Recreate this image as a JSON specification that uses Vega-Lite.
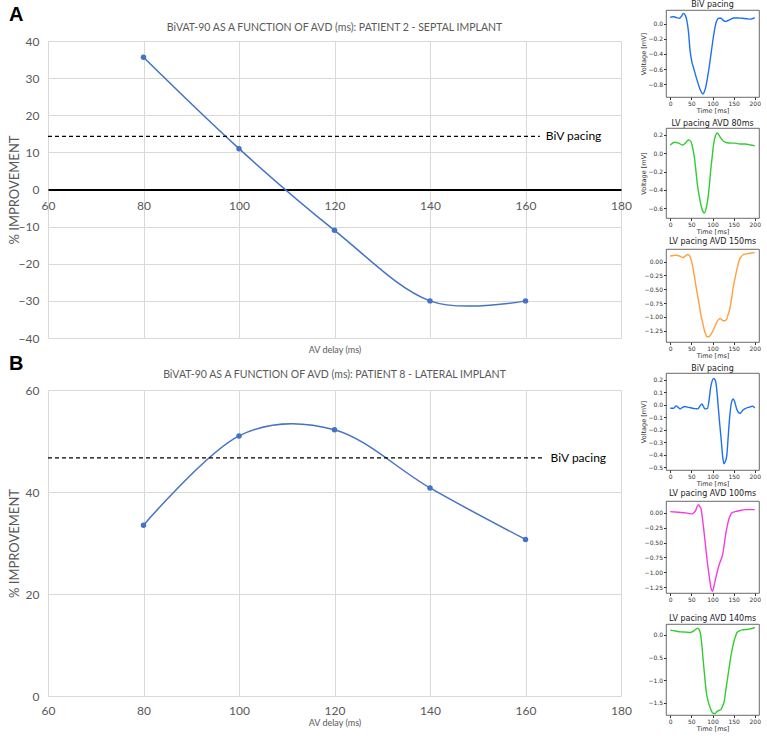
{
  "$schema": "https://vega.github.io/schema/vega-lite/v6.json",
  "background": "white",
  "padding": {"left": 8, "top": 0, "right": 0, "bottom": 0},
  "autosize": {"type": "pad"},
  "datasets": {
    "A": [
      {"avd": 80, "imp": 35.6}, {"avd": 100, "imp": 11}, {"avd": 120, "imp": -11}, {"avd": 140, "imp": -30}, {"avd": 160, "imp": -30}
    ],
    "B": [
      {"avd": 80, "imp": 33.5}, {"avd": 100, "imp": 51}, {"avd": 120, "imp": 52.2}, {"avd": 140, "imp": 40.8}, {"avd": 160, "imp": 30.7}
    ],
    "refA": [{"start": 60, "end": 163, "imp": 14.3, "label": "BiV pacing"}],
    "refB": [{"start": 60, "end": 164, "imp": 46.7, "label": "BiV pacing"}],
    "w1": [
      {"t": 0, "v": 0.085}, {"t": 8, "v": 0.09}, {"t": 15, "v": 0.08}, {"t": 22, "v": 0.07}, {"t": 27, "v": 0.1}, {"t": 31, "v": 0.135}, {"t": 35, "v": 0.115}, {"t": 39, "v": 0.05}, {"t": 43, "v": -0.1}, {"t": 47, "v": -0.36}, {"t": 51, "v": -0.5}, {"t": 55, "v": -0.58}, {"t": 62, "v": -0.72}, {"t": 70, "v": -0.86}, {"t": 74, "v": -0.91}, {"t": 77, "v": -0.93}, {"t": 80, "v": -0.91}, {"t": 84, "v": -0.84}, {"t": 88, "v": -0.72}, {"t": 92, "v": -0.58}, {"t": 97, "v": -0.38}, {"t": 102, "v": -0.18}, {"t": 107, "v": -0.02}, {"t": 111, "v": 0.05}, {"t": 115, "v": 0.07}, {"t": 120, "v": 0.07}, {"t": 126, "v": 0.04}, {"t": 132, "v": 0.03}, {"t": 140, "v": 0.05}, {"t": 150, "v": 0.075}, {"t": 160, "v": 0.075}, {"t": 170, "v": 0.07}, {"t": 180, "v": 0.065}, {"t": 190, "v": 0.06}, {"t": 200, "v": 0.08}
    ],
    "w2": [
      {"t": 0, "v": 0.09}, {"t": 10, "v": 0.12}, {"t": 20, "v": 0.11}, {"t": 29, "v": 0.09}, {"t": 36, "v": 0.11}, {"t": 43, "v": 0.145}, {"t": 49, "v": 0.127}, {"t": 53, "v": 0.06}, {"t": 57, "v": -0.04}, {"t": 61, "v": -0.2}, {"t": 64, "v": -0.33}, {"t": 68, "v": -0.45}, {"t": 72, "v": -0.55}, {"t": 77, "v": -0.63}, {"t": 81, "v": -0.65}, {"t": 85, "v": -0.6}, {"t": 88, "v": -0.53}, {"t": 92, "v": -0.38}, {"t": 95, "v": -0.22}, {"t": 99, "v": -0.05}, {"t": 103, "v": 0.11}, {"t": 107, "v": 0.19}, {"t": 111, "v": 0.22}, {"t": 115, "v": 0.2}, {"t": 119, "v": 0.17}, {"t": 126, "v": 0.13}, {"t": 134, "v": 0.115}, {"t": 145, "v": 0.11}, {"t": 153, "v": 0.11}, {"t": 165, "v": 0.1}, {"t": 177, "v": 0.1}, {"t": 190, "v": 0.09}, {"t": 200, "v": 0.08}
    ],
    "w3": [
      {"t": 0, "v": 0.1}, {"t": 8, "v": 0.11}, {"t": 15, "v": 0.115}, {"t": 22, "v": 0.1}, {"t": 30, "v": 0.072}, {"t": 36, "v": 0.1}, {"t": 42, "v": 0.128}, {"t": 46, "v": 0.1}, {"t": 49, "v": 0.05}, {"t": 53, "v": -0.08}, {"t": 57, "v": -0.26}, {"t": 61, "v": -0.45}, {"t": 65, "v": -0.63}, {"t": 69, "v": -0.8}, {"t": 72, "v": -0.94}, {"t": 76, "v": -1.08}, {"t": 80, "v": -1.22}, {"t": 84, "v": -1.32}, {"t": 87, "v": -1.36}, {"t": 91, "v": -1.36}, {"t": 95, "v": -1.33}, {"t": 99, "v": -1.28}, {"t": 103, "v": -1.22}, {"t": 107, "v": -1.15}, {"t": 110, "v": -1.1}, {"t": 114, "v": -1.05}, {"t": 118, "v": -1.03}, {"t": 122, "v": -1.05}, {"t": 125, "v": -1.07}, {"t": 129, "v": -1.07}, {"t": 133, "v": -1.05}, {"t": 137, "v": -0.96}, {"t": 141, "v": -0.85}, {"t": 145, "v": -0.68}, {"t": 148, "v": -0.51}, {"t": 152, "v": -0.35}, {"t": 156, "v": -0.2}, {"t": 160, "v": -0.07}, {"t": 163, "v": 0.02}, {"t": 167, "v": 0.08}, {"t": 171, "v": 0.115}, {"t": 178, "v": 0.135}, {"t": 186, "v": 0.146}, {"t": 193, "v": 0.155}, {"t": 200, "v": 0.165}
    ],
    "w4": [
      {"t": 0, "v": -0.027}, {"t": 8, "v": -0.027}, {"t": 14, "v": -0.008}, {"t": 19, "v": -0.02}, {"t": 23, "v": -0.032}, {"t": 28, "v": -0.022}, {"t": 34, "v": -0.013}, {"t": 44, "v": -0.02}, {"t": 53, "v": -0.027}, {"t": 60, "v": -0.03}, {"t": 65, "v": -0.032}, {"t": 70, "v": -0.01}, {"t": 75, "v": 0.007}, {"t": 79, "v": -0.015}, {"t": 82, "v": -0.032}, {"t": 88, "v": -0.027}, {"t": 92, "v": 0.04}, {"t": 95, "v": 0.126}, {"t": 99, "v": 0.19}, {"t": 103, "v": 0.212}, {"t": 106, "v": 0.2}, {"t": 108, "v": 0.178}, {"t": 111, "v": 0.09}, {"t": 114, "v": -0.032}, {"t": 117, "v": -0.15}, {"t": 121, "v": -0.294}, {"t": 124, "v": -0.41}, {"t": 127, "v": -0.47}, {"t": 130, "v": -0.455}, {"t": 134, "v": -0.399}, {"t": 137, "v": -0.26}, {"t": 141, "v": -0.084}, {"t": 145, "v": 0.02}, {"t": 149, "v": 0.047}, {"t": 152, "v": 0.03}, {"t": 154, "v": 0.007}, {"t": 157, "v": -0.03}, {"t": 160, "v": -0.053}, {"t": 163, "v": -0.065}, {"t": 166, "v": -0.066}, {"t": 171, "v": -0.045}, {"t": 176, "v": -0.032}, {"t": 185, "v": -0.02}, {"t": 195, "v": -0.011}, {"t": 200, "v": -0.024}
    ],
    "w5": [
      {"t": 0, "v": 0.021}, {"t": 19, "v": 0.01}, {"t": 37, "v": 0.0}, {"t": 52, "v": -0.017}, {"t": 56, "v": 0.005}, {"t": 60, "v": 0.038}, {"t": 64, "v": 0.11}, {"t": 67, "v": 0.136}, {"t": 70, "v": 0.11}, {"t": 73, "v": 0.065}, {"t": 76, "v": -0.08}, {"t": 79, "v": -0.26}, {"t": 82, "v": -0.45}, {"t": 85, "v": -0.65}, {"t": 88, "v": -0.84}, {"t": 91, "v": -1.0}, {"t": 94, "v": -1.16}, {"t": 96, "v": -1.25}, {"t": 98, "v": -1.3}, {"t": 100, "v": -1.32}, {"t": 103, "v": -1.25}, {"t": 106, "v": -1.15}, {"t": 109, "v": -1.06}, {"t": 112, "v": -0.97}, {"t": 116, "v": -0.87}, {"t": 120, "v": -0.79}, {"t": 124, "v": -0.7}, {"t": 128, "v": -0.52}, {"t": 131, "v": -0.37}, {"t": 135, "v": -0.22}, {"t": 139, "v": -0.1}, {"t": 143, "v": -0.03}, {"t": 146, "v": 0.0}, {"t": 151, "v": 0.015}, {"t": 157, "v": 0.027}, {"t": 165, "v": 0.04}, {"t": 176, "v": 0.054}, {"t": 188, "v": 0.055}, {"t": 200, "v": 0.054}
    ],
    "w6": [
      {"t": 0, "v": 0.104}, {"t": 12, "v": 0.085}, {"t": 25, "v": 0.067}, {"t": 37, "v": 0.06}, {"t": 48, "v": 0.052}, {"t": 56, "v": 0.089}, {"t": 61, "v": 0.13}, {"t": 65, "v": 0.148}, {"t": 68, "v": 0.12}, {"t": 71, "v": 0.052}, {"t": 74, "v": -0.15}, {"t": 76, "v": -0.352}, {"t": 81, "v": -0.87}, {"t": 86, "v": -1.31}, {"t": 90, "v": -1.48}, {"t": 94, "v": -1.6}, {"t": 98, "v": -1.69}, {"t": 101, "v": -1.73}, {"t": 106, "v": -1.74}, {"t": 110, "v": -1.7}, {"t": 113, "v": -1.68}, {"t": 117, "v": -1.66}, {"t": 120, "v": -1.65}, {"t": 124, "v": -1.57}, {"t": 128, "v": -1.46}, {"t": 131, "v": -1.25}, {"t": 135, "v": -1.0}, {"t": 139, "v": -0.75}, {"t": 143, "v": -0.5}, {"t": 147, "v": -0.3}, {"t": 151, "v": -0.13}, {"t": 155, "v": -0.02}, {"t": 158, "v": 0.052}, {"t": 164, "v": 0.09}, {"t": 170, "v": 0.11}, {"t": 185, "v": 0.125}, {"t": 193, "v": 0.14}, {"t": 200, "v": 0.163}
    ]
  },
  "hconcat": [
    {
      "vconcat": [
        {
          "width": 1, "height": 10,
          "data": {"values": []},
          "mark": "point",
          "title": {"text": "A", "orient": "left", "angle": 0, "anchor": "middle", "align": "right", "baseline": "middle", "offset": 10, "fontSize": 20, "fontWeight": "bold", "font": "Liberation Sans", "color": "black"}
        },
        {
          "width": 573, "height": 297,
          "title": {"text": "BiVAT-90 AS A FUNCTION OF AVD (ms): PATIENT 2 - SEPTAL IMPLANT", "fontSize": 10.5, "color": "#595959", "font": "Lato", "fontWeight": "normal", "offset": 2},
          "encoding": {
            "y": {"field": "imp", "type": "quantitative", "scale": {"domain": [-40, 40], "nice": false, "zero": false},
              "axis": {"values": [-40, -30, -20, -10, 0, 10, 20, 30, 40], "domain": false, "ticks": false, "labelPadding": 9, "labelFontSize": 12, "labelColor": "#595959", "labelFont": "Lato", "grid": true, "gridColor": "#d9d9d9", "title": "% IMPROVEMENT", "titleX": -27, "titleFontSize": 13, "titleFontWeight": "normal", "titleColor": "#595959", "titleFont": "Lato"}}
          },
          "layer": [
            {
              "data": {"name": "A"},
              "mark": {"type": "line", "color": "#4472C4", "strokeWidth": 1.5, "interpolate": "cardinal"},
              "encoding": {
                "x": {"field": "avd", "type": "quantitative", "scale": {"domain": [60, 180], "nice": false, "zero": false},
                  "axis": {"values": [60, 80, 100, 120, 140, 160, 180], "offset": -148.5, "domain": true, "domainColor": "black", "domainWidth": 2, "ticks": false, "labelPadding": 11, "labelFontSize": 12, "labelColor": "#595959", "labelFont": "Lato", "grid": true, "gridColor": "#d9d9d9", "title": "AV delay (ms)", "titleY": 159.5, "titleBaseline": "middle", "titleFontSize": 9, "titleFontWeight": "normal", "titleColor": "#595959", "titleFont": "Lato"}}
              }
            },
            {
              "data": {"name": "A"},
              "mark": {"type": "circle", "color": "#4472C4", "size": 30, "opacity": 1},
              "encoding": {"x": {"field": "avd", "type": "quantitative"}}
            },
            {
              "data": {"name": "refA"},
              "mark": {"type": "rule", "color": "black", "strokeDash": [4, 3], "strokeWidth": 1.2},
              "encoding": {"x": {"field": "start", "type": "quantitative"}, "x2": {"field": "end"}}
            },
            {
              "data": {"name": "refA"},
              "mark": {"type": "text", "align": "left", "baseline": "middle", "dx": 6, "fontSize": 12, "font": "Lato", "color": "black"},
              "encoding": {"x": {"field": "end", "type": "quantitative"}, "text": {"field": "label"}}
            }
          ]
        },
        {
          "width": 1, "height": 10,
          "data": {"values": []},
          "mark": "point",
          "title": {"text": "B", "orient": "left", "angle": 0, "anchor": "middle", "align": "right", "baseline": "middle", "offset": 10, "fontSize": 20, "fontWeight": "bold", "font": "Liberation Sans", "color": "black"}
        },
        {
          "width": 573, "height": 306,
          "title": {"text": "BiVAT-90 AS A FUNCTION OF AVD (ms): PATIENT 8 - LATERAL IMPLANT", "fontSize": 10.5, "color": "#595959", "font": "Lato", "fontWeight": "normal", "offset": 4},
          "encoding": {
            "y": {"field": "imp", "type": "quantitative", "scale": {"domain": [0, 60], "nice": false, "zero": false},
              "axis": {"values": [0, 20, 40, 60], "domain": false, "ticks": false, "labelPadding": 9, "labelFontSize": 12, "labelColor": "#595959", "labelFont": "Lato", "grid": true, "gridColor": "#d9d9d9", "title": "% IMPROVEMENT", "titleX": -27, "titleFontSize": 13, "titleFontWeight": "normal", "titleColor": "#595959", "titleFont": "Lato"}}
          },
          "layer": [
            {
              "data": {"name": "B"},
              "mark": {"type": "line", "color": "#4472C4", "strokeWidth": 1.5, "interpolate": "cardinal"},
              "encoding": {
                "x": {"field": "avd", "type": "quantitative", "scale": {"domain": [60, 180], "nice": false, "zero": false},
                  "axis": {"values": [60, 80, 100, 120, 140, 160, 180], "domain": false, "ticks": false, "labelPadding": 9, "labelFontSize": 12, "labelColor": "#595959", "labelFont": "Lato", "grid": true, "gridColor": "#d9d9d9", "title": "AV delay (ms)", "titlePadding": 2, "titleFontSize": 9, "titleFontWeight": "normal", "titleColor": "#595959", "titleFont": "Lato"}}
              }
            },
            {
              "data": {"name": "B"},
              "mark": {"type": "circle", "color": "#4472C4", "size": 30, "opacity": 1},
              "encoding": {"x": {"field": "avd", "type": "quantitative"}}
            },
            {
              "data": {"name": "refB"},
              "mark": {"type": "rule", "color": "black", "strokeDash": [4, 3], "strokeWidth": 1.2},
              "encoding": {"x": {"field": "start", "type": "quantitative"}, "x2": {"field": "end"}}
            },
            {
              "data": {"name": "refB"},
              "mark": {"type": "text", "align": "left", "baseline": "middle", "dx": 6, "fontSize": 12, "font": "Lato", "color": "black"},
              "encoding": {"x": {"field": "end", "type": "quantitative"}, "text": {"field": "label"}}
            }
          ]
        }
      ],
      "spacing": 21,
      "bounds": "flush"
    },
    {
      "vconcat": [
        {
          "width": 93, "height": 87,
          "title": {"text": "BiV pacing", "offset": 1},
          "view": {"stroke": "#444", "strokeWidth": 0.8},
          "data": {"name": "w1"},
          "mark": {"type": "line", "color": "#1f70f0", "strokeWidth": 1.4, "interpolate": "monotone"},
          "encoding": {
            "x": {"field": "t", "type": "quantitative", "scale": {"domain": [-10, 210], "nice": false, "zero": false}, "axis": {"values": [0, 50, 100, 150, 200], "title": "Time [ms]"}},
            "y": {"field": "v", "type": "quantitative", "scale": {"domain": [-0.97, 0.18], "nice": false, "zero": false}, "axis": {"values": [-0.8, -0.6, -0.4, -0.2, 0.0], "format": ".1f", "title": "Voltage [mV]"}}
          }
        },
        {
          "width": 93, "height": 90,
          "title": {"text": "LV pacing AVD 80ms", "offset": 0},
          "view": {"stroke": "#444", "strokeWidth": 0.8},
          "data": {"name": "w2"},
          "mark": {"type": "line", "color": "#33cc33", "strokeWidth": 1.4, "interpolate": "monotone"},
          "encoding": {
            "x": {"field": "t", "type": "quantitative", "scale": {"domain": [-10, 210], "nice": false, "zero": false}, "axis": {"values": [0, 50, 100, 150, 200], "title": "Time [ms]"}},
            "y": {"field": "v", "type": "quantitative", "scale": {"domain": [-0.705, 0.275], "nice": false, "zero": false}, "axis": {"values": [-0.6, -0.4, -0.2, 0.0, 0.2], "format": ".1f", "title": "Voltage [mV]"}}
          }
        },
        {
          "width": 93, "height": 93,
          "title": {"text": "LV pacing AVD 150ms", "offset": 3},
          "view": {"stroke": "#444", "strokeWidth": 0.8},
          "data": {"name": "w3"},
          "mark": {"type": "line", "color": "#ffa040", "strokeWidth": 1.4, "interpolate": "monotone"},
          "encoding": {
            "x": {"field": "t", "type": "quantitative", "scale": {"domain": [-10, 210], "nice": false, "zero": false}, "axis": {"values": [0, 50, 100, 150, 200], "title": "Time [ms]"}},
            "y": {"field": "v", "type": "quantitative", "scale": {"domain": [-1.455, 0.227], "nice": false, "zero": false}, "axis": {"values": [-1.25, -1.0, -0.75, -0.5, -0.25, 0.0], "format": ".2f", "title": null}}
          }
        },
        {
          "width": 93, "height": 97,
          "title": {"text": "BiV pacing", "offset": 0},
          "view": {"stroke": "#444", "strokeWidth": 0.8},
          "data": {"name": "w4"},
          "mark": {"type": "line", "color": "#1f70f0", "strokeWidth": 1.4, "interpolate": "monotone"},
          "encoding": {
            "x": {"field": "t", "type": "quantitative", "scale": {"domain": [-10, 210], "nice": false, "zero": false}, "axis": {"values": [0, 50, 100, 150, 200], "title": "Time [ms]"}},
            "y": {"field": "v", "type": "quantitative", "scale": {"domain": [-0.52, 0.255], "nice": false, "zero": false}, "axis": {"values": [-0.5, -0.4, -0.3, -0.2, -0.1, 0.0, 0.1, 0.2], "format": ".1f", "title": "Voltage [mV]"}}
          }
        },
        {
          "width": 93, "height": 92,
          "title": {"text": "LV pacing AVD 100ms", "offset": 3},
          "view": {"stroke": "#444", "strokeWidth": 0.8},
          "data": {"name": "w5"},
          "mark": {"type": "line", "color": "#f53ddc", "strokeWidth": 1.4, "interpolate": "monotone"},
          "encoding": {
            "x": {"field": "t", "type": "quantitative", "scale": {"domain": [-10, 210], "nice": false, "zero": false}, "axis": {"values": [0, 50, 100, 150, 200], "title": null}},
            "y": {"field": "v", "type": "quantitative", "scale": {"domain": [-1.35, 0.2], "nice": false, "zero": false}, "axis": {"values": [-1.25, -1.0, -0.75, -0.5, -0.25, 0.0], "format": ".2f", "title": null}}
          }
        },
        {
          "width": 93, "height": 91,
          "title": {"text": "LV pacing AVD 140ms", "offset": 1},
          "view": {"stroke": "#444", "strokeWidth": 0.8},
          "data": {"name": "w6"},
          "mark": {"type": "line", "color": "#33cc33", "strokeWidth": 1.4, "interpolate": "monotone"},
          "encoding": {
            "x": {"field": "t", "type": "quantitative", "scale": {"domain": [-10, 210], "nice": false, "zero": false}, "axis": {"values": [0, 50, 100, 150, 200], "title": "Time [ms]"}},
            "y": {"field": "v", "type": "quantitative", "scale": {"domain": [-1.77, 0.24], "nice": false, "zero": false}, "axis": {"values": [-1.5, -1.0, -0.5, 0.0], "format": ".1f", "title": null}}
          }
        }
      ],
      "spacing": 31,
      "bounds": "flush"
    }
  ],
  "spacing": 8,
  "config": {
    "view": {"stroke": null},
    "title": {"font": "DejaVu Sans", "fontSize": 8, "fontWeight": "normal", "color": "#222"},
    "axis": {
      "labelFont": "DejaVu Sans", "labelFontSize": 6, "labelColor": "#333",
      "titleFont": "DejaVu Sans", "titleFontSize": 6.5, "titleFontWeight": "normal", "titleColor": "#333",
      "tickColor": "#333", "tickSize": 2.5, "labelPadding": 1, "titlePadding": 1,
      "grid": false, "domain": false, "labelFlush": false, "labelOverlap": false
    }
  }
}
